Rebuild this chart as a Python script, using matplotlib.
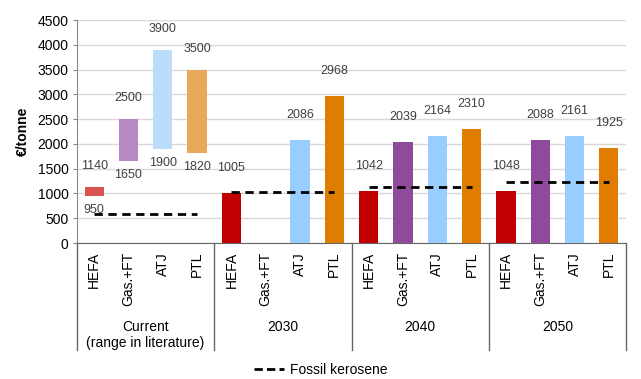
import numpy as np
import matplotlib
matplotlib.use("Agg")
import matplotlib.pyplot as plt
from matplotlib.lines import Line2D

plt.rcParams['font.family'] = ['Liberation Sans', 'DejaVu Sans']

categories = ["HEFA", "Gas.+FT", "ATJ", "PTL"]
groups = ["Current\n(range in literature)", "2030", "2040", "2050"]
current_low = [950, 1650, 1900, 1820]
current_high = [1140, 2500, 3900, 3500]
y2030 = [1005, np.nan, 2086, 2968]
y2040 = [1042, 2039, 2164, 2310]
y2050 = [1048, 2088, 2161, 1925]
fossil = [580, 1030, 1140, 1240]

colors = ["#c00000", "#8e4b9c", "#99ccff", "#e07c00"]
light_colors = ["#d9534f", "#b689c2", "#bcdcfc", "#e8aa58"]
label_color = "#404040"

fig = plt.figure(figsize=(6.41, 3.79), dpi=100)
ax = fig.add_axes([77/641, 1-243/379, 549/641, 223/379])

n = len(categories)
width = 0.56
# current (range)
for i in range(n):
    x = i
    ax.bar(x, current_high[i]-current_low[i], bottom=current_low[i], width=width,
           color=light_colors[i], zorder=3)
    ax.annotate(f"{current_high[i]}", (x, current_high[i]), xytext=(0, 15),
                textcoords="offset points", ha="center", va="center",
                fontsize=9, color=label_color)
    ax.annotate(f"{current_low[i]}", (x, current_low[i]), xytext=(0, -10),
                textcoords="offset points", ha="center", va="center",
                fontsize=9, color=label_color)

for g, vals in enumerate([y2030, y2040, y2050], start=1):
    for i in range(n):
        v = vals[i]
        if np.isnan(v):
            continue
        x = g*n + i
        ax.bar(x, v, width=width, color=colors[i], zorder=3)
        ax.annotate(f"{int(v)}", (x, v), xytext=(0, 18),
                    textcoords="offset points", ha="center", va="center",
                    fontsize=9, color=label_color)

# fossil kerosene
for g in range(len(groups)):
    ax.plot([g*n, g*n + n - 1], [fossil[g], fossil[g]], color="black",
            linestyle=(0, (3, 2)), linewidth=2, zorder=4)

ax.set_xlim(-0.5, len(groups)*n - 0.5)
ax.set_ylim(0, 4500)
ax.set_yticks(np.arange(0, 4501, 500))
ax.tick_params(axis='y', labelsize=10, length=3, color="#888888", pad=3)
ax.grid(axis='y', color="#d9d9d9", linewidth=1, zorder=0)
ax.set_axisbelow(True)
for s in ["top", "right"]:
    ax.spines[s].set_visible(False)
ax.spines["left"].set_color("#888888")
ax.spines["bottom"].set_color("#666666")
ax.set_ylabel("€/tonne", fontsize=10, fontweight="bold")
ax.yaxis.set_label_coords(-0.085, 0.5)

ax.set_xticks([])
trans = ax.get_xaxis_transform()
for g in range(len(groups)):
    for i in range(n):
        x = g*n + i
        ax.text(x, -0.04, categories[i], transform=trans, rotation=90,
                ha="center", va="top", fontsize=10, color="black")
    ax.text(g*n + (n-1)/2, -0.345, groups[g], transform=trans,
            ha="center", va="top", fontsize=10, linespacing=1.2)
for b in range(len(groups)+1):
    ax.plot([b*n - 0.5, b*n - 0.5], [0, -0.48], transform=trans,
            color="#666666", linewidth=1, clip_on=False)

handle = Line2D([], [], color="black", linestyle=(0, (3, 1.5)), linewidth=2)
fig.legend([handle], ["Fossil kerosene"], loc="center",
           bbox_to_anchor=(0.5, 1-370/379), frameon=False, fontsize=10,
           handlelength=2.2, handletextpad=0.4)

fig.savefig("out.png", dpi=100)
